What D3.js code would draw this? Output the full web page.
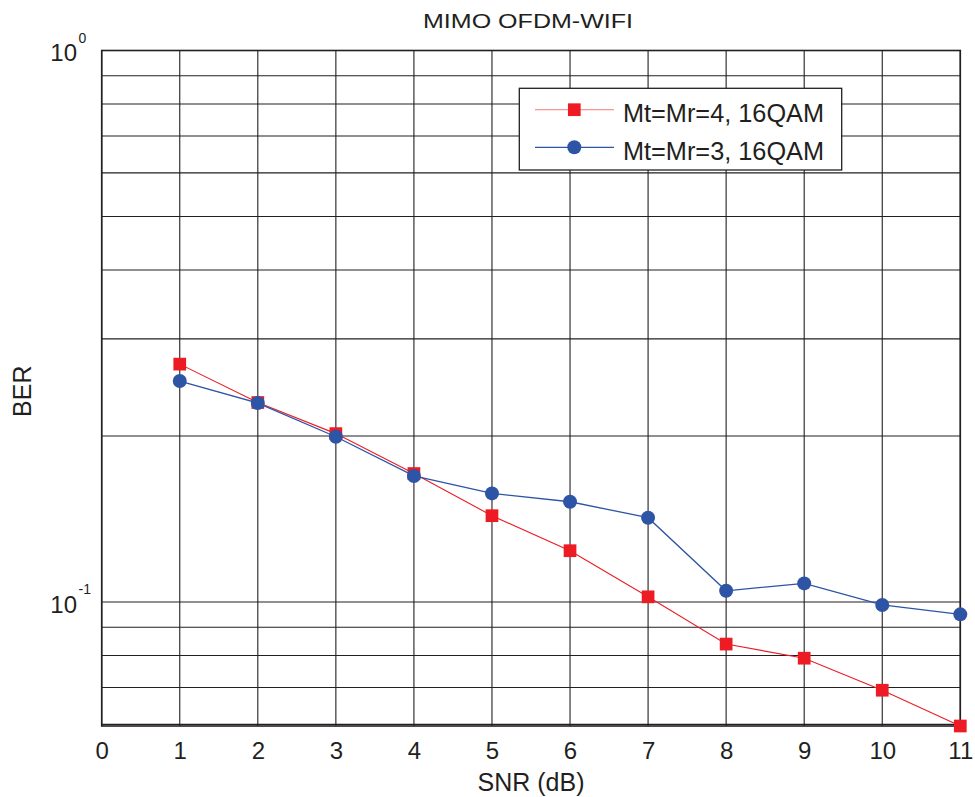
<!DOCTYPE html>
<html>
<head>
<meta charset="utf-8">
<script src="https://cdn.jsdelivr.net/npm/d3@7"></script>
<style>
  html, body { margin: 0; padding: 0; background: #ffffff; }
  svg { display: block; font-family: "Liberation Sans", Arial, Helvetica, sans-serif; }
</style>
</head>
<body>
<svg id="chart" width="975" height="797"></svg>
<script>
// SNR points (dB)
const snr = [1, 2, 3, 4, 5, 6, 7, 8, 9, 10, 11];
// Bit error rate for each antenna configuration
const berMt4 = [0.270, 0.230, 0.202, 0.171, 0.1434, 0.1239, 0.1022, 0.0839, 0.0791, 0.0692, 0.0596];
const berMt3 = [0.2516, 0.2295, 0.1994, 0.1693, 0.1574, 0.1520, 0.1422, 0.1048, 0.1081, 0.0988, 0.0950];
const seriesNames = ["Mt=Mr=4, 16QAM", "Mt=Mr=3, 16QAM"];
const xTicks = [0, 1, 2, 3, 4, 5, 6, 7, 8, 9, 10, 11];
const yDecades = [0, -1];

(function () {
  const ink = "#231f20";
  const red = "#ed1c24";
  const blue = "#2e54a6";

  const svg = d3.select("#chart");
  const pL = 101.7, pR = 960.3, pT = 50.5, pB = 726;

  const x = d3.scaleLinear().domain([0, 11]).range([pL, pR]);
  const y = d3.scaleLog().domain([0.0596, 1]).range([pB, pT]);

  // grid: every integer SNR, and log minor lines 1..9 per decade
  const grid = svg.append("g");
  xTicks.forEach(t => {
    grid.append("line")
      .attr("x1", x(t)).attr("x2", x(t))
      .attr("y1", pT).attr("y2", pB)
      .attr("stroke", ink).attr("stroke-width", 1.1);
  });
  const yGrid = y.ticks().filter(v => v >= y.domain()[0] && v <= 1);
  yGrid.forEach(v => {
    grid.append("line")
      .attr("x1", pL).attr("x2", pR)
      .attr("y1", y(v)).attr("y2", y(v))
      .attr("stroke", ink).attr("stroke-width", 1.1);
  });

  // frame
  svg.append("rect")
    .attr("x", pL).attr("y", pT)
    .attr("width", pR - pL).attr("height", pB - pT)
    .attr("fill", "none").attr("stroke", ink).attr("stroke-width", 1.6);

  // x tick labels
  const xAxis = d3.axisBottom(x).tickValues(xTicks).tickSize(0).tickPadding(0);
  const gxa = svg.append("g").attr("transform", `translate(0,${pB})`).call(xAxis);
  gxa.select(".domain").remove();
  gxa.selectAll("text")
    .attr("y", 33).attr("dy", null)
    .attr("font-size", 24).attr("fill", ink)
    .attr("font-family", "Liberation Sans, Arial, sans-serif");

  // y tick labels as powers of ten
  yDecades.forEach(p => {
    const yy = y(Math.pow(10, p));
    svg.append("text")
      .attr("x", 77).attr("y", yy + 10.5)
      .attr("text-anchor", "end")
      .attr("font-size", 24).attr("fill", ink)
      .text("10");
    svg.append("text")
      .attr("x", 78.5).attr("y", yy - 8)
      .attr("text-anchor", "start")
      .attr("font-size", 14).attr("fill", ink)
      .text(String(p));
  });

  // axis titles
  svg.append("text")
    .attr("x", (pL + pR) / 2).attr("y", 790.5)
    .attr("text-anchor", "middle")
    .attr("font-size", 25).attr("fill", ink)
    .text("SNR (dB)");

  svg.append("text")
    .attr("transform", `translate(31,${(pT + pB) / 2 + 3}) rotate(-90)`)
    .attr("text-anchor", "middle")
    .attr("font-size", 25).attr("fill", ink)
    .text("BER");

  svg.append("text")
    .attr("x", 528).attr("y", 28.3)
    .attr("text-anchor", "middle")
    .attr("font-size", 21).attr("fill", ink)
    .attr("textLength", 210).attr("lengthAdjust", "spacingAndGlyphs")
    .text("MIMO OFDM-WIFI");

  // data series
  const line = d3.line().x(d => x(d[0])).y(d => y(d[1]));
  const dataMt4 = snr.map((s, i) => [s, berMt4[i]]);
  const dataMt3 = snr.map((s, i) => [s, berMt3[i]]);

  const sq = 12.7, rad = 7;

  svg.append("path").datum(dataMt4)
    .attr("d", line).attr("fill", "none")
    .attr("stroke", red).attr("stroke-width", 1.1);
  svg.append("g").selectAll("rect").data(dataMt4).join("rect")
    .attr("x", d => x(d[0]) - sq / 2).attr("y", d => y(d[1]) - sq / 2)
    .attr("width", sq).attr("height", sq).attr("fill", red);

  svg.append("path").datum(dataMt3)
    .attr("d", line).attr("fill", "none")
    .attr("stroke", blue).attr("stroke-width", 1.3);
  svg.append("g").selectAll("circle").data(dataMt3).join("circle")
    .attr("cx", d => x(d[0])).attr("cy", d => y(d[1]))
    .attr("r", rad).attr("fill", blue);

  // legend
  const lg = svg.append("g");
  lg.append("rect")
    .attr("x", 519.3).attr("y", 88.3)
    .attr("width", 322.4).attr("height", 81.7)
    .attr("fill", "#ffffff").attr("stroke", ink).attr("stroke-width", 1.3);
  const rows = [
    { name: seriesNames[0], color: red, shape: "square", cy: 109.7 },
    { name: seriesNames[1], color: blue, shape: "circle", cy: 147.3 }
  ];
  rows.forEach(r => {
    lg.append("line")
      .attr("x1", 535).attr("x2", 614)
      .attr("y1", r.cy).attr("y2", r.cy)
      .attr("stroke", r.color).attr("stroke-width", r.shape === "square" ? 1.1 : 1.3)
      .attr("stroke-opacity", r.shape === "square" ? 0.6 : 1);
    if (r.shape === "square") {
      lg.append("rect")
        .attr("x", 574.3 - sq / 2).attr("y", r.cy - sq / 2)
        .attr("width", sq).attr("height", sq).attr("fill", r.color);
    } else {
      lg.append("circle")
        .attr("cx", 574.3).attr("cy", r.cy).attr("r", rad).attr("fill", r.color);
    }
    lg.append("text")
      .attr("x", 623).attr("y", r.cy + 12.3)
      .attr("font-size", 25.3).attr("fill", ink)
      .text(r.name);
  });
})();
</script>
</body>
</html>
